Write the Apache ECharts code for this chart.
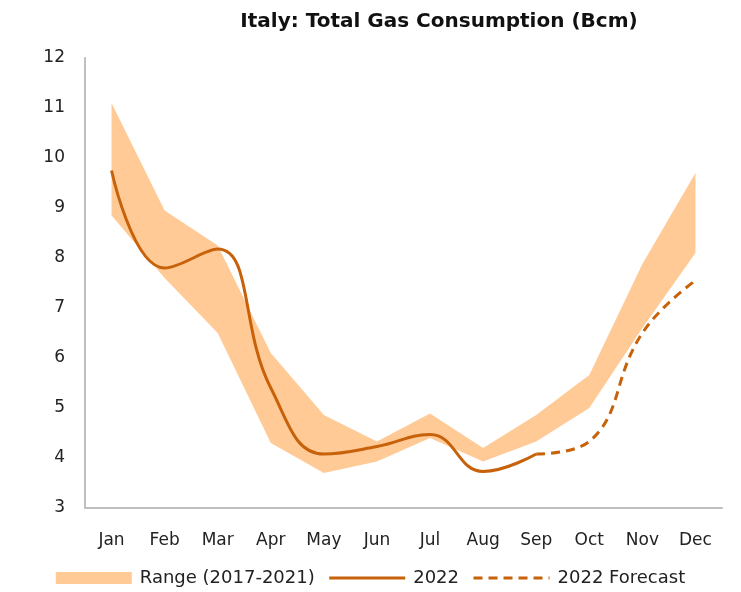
<!DOCTYPE html>
<html>
<head>
<meta charset="utf-8">
<script src="https://cdn.jsdelivr.net/npm/echarts@6/dist/echarts.min.js"></script>
<style>
  html, body { margin: 0; padding: 0; background: #fff; }
  #main { width: 741px; height: 592px; }
</style>
</head>
<body>
<div id="main"></div>
<script>
// 月份
const months = ['Jan', 'Feb', 'Mar', 'Apr', 'May', 'Jun', 'Jul', 'Aug', 'Sep', 'Oct', 'Nov', 'Dec'];
// 2017-2021 区间
const rangeLow  = [8.85, 7.6, 6.5, 4.3, 3.7, 3.93, 4.4, 3.93, 4.33, 5.0, 6.6, 8.1];
const rangeHigh = [11.1, 8.95, 8.25, 6.1, 4.86, 4.33, 4.89, 4.2, 4.86, 5.66, 7.88, 9.7];
// 2022 实际 / 预测
const actual2022   = [9.75, 7.8, 8.18, 5.4, 4.08, 4.23, 4.47, 3.73, 4.08, null, null, null];
const forecast2022 = [null, null, null, null, null, null, null, null, 4.08, 4.33, 6.5, 7.55];
const yTicks = [3, 12, 1]; // min, max, interval

const bandColor = '#FFCA96';
const lineColor = '#C8620A';
const font = 'DejaVu Sans';

const chart = echarts.init(document.getElementById('main'));

const option = {
  animation: false,
  title: {
    text: 'Italy: Total Gas Consumption (Bcm)',
    left: 434,
    textAlign: 'center',
    top: 7,
    textStyle: { fontFamily: font, fontSize: 20, fontWeight: 'bold', color: '#111' }
  },
  grid: { left: 85, right: 19, top: 58, bottom: 84 },
  legend: {
    bottom: 0,
    left: 'center',
    itemWidth: 76,
    itemHeight: 12,
    itemGap: 13,
    lineStyle: { width: 3 },
    textStyle: { fontFamily: font, fontSize: 18, color: '#222', padding: [0, 0, 0, 3] },
    data: [
      { name: 'Range (2017-2021)', icon: 'rect' },
      { name: '2022', itemStyle: { opacity: 0 } },
      { name: '2022 Forecast', itemStyle: { opacity: 0 } }
    ]
  },
  xAxis: {
    type: 'category',
    data: months,
    boundaryGap: true,
    axisLine: { lineStyle: { color: '#bfbfbf', width: 2 } },
    axisTick: { show: false },
    axisLabel: { fontFamily: font, fontSize: 17, color: '#222', margin: 24 }
  },
  yAxis: {
    type: 'value',
    min: yTicks[0],
    max: yTicks[1],
    interval: yTicks[2],
    axisLine: { show: true, lineStyle: { color: '#bfbfbf', width: 2 } },
    axisTick: { show: false },
    splitLine: { show: false },
    axisLabel: { fontFamily: font, fontSize: 17, color: '#222', margin: 20 }
  },
  series: [
    {
      name: 'low',
      type: 'line',
      stack: 'band',
      data: rangeLow,
      symbol: 'none',
      lineStyle: { opacity: 0 },
      areaStyle: { opacity: 0 },
      silent: true
    },
    {
      name: 'Range (2017-2021)',
      type: 'line',
      stack: 'band',
      data: rangeHigh.map((v, i) => +(v - rangeLow[i]).toFixed(3)),
      symbol: 'none',
      itemStyle: { color: bandColor },
      lineStyle: { opacity: 0 },
      areaStyle: { color: bandColor, opacity: 1 }
    },
    {
      name: '2022',
      type: 'line',
      data: actual2022,
      smooth: 0.45,
      symbol: 'none',
      itemStyle: { color: lineColor },
      lineStyle: { color: lineColor, width: 3 }
    },
    {
      name: '2022 Forecast',
      type: 'line',
      data: forecast2022,
      smooth: 0.45,
      symbol: 'none',
      itemStyle: { color: lineColor },
      lineStyle: { color: lineColor, width: 3, type: [9, 6] }
    }
  ]
};

chart.setOption(option);
</script>
</body>
</html>
